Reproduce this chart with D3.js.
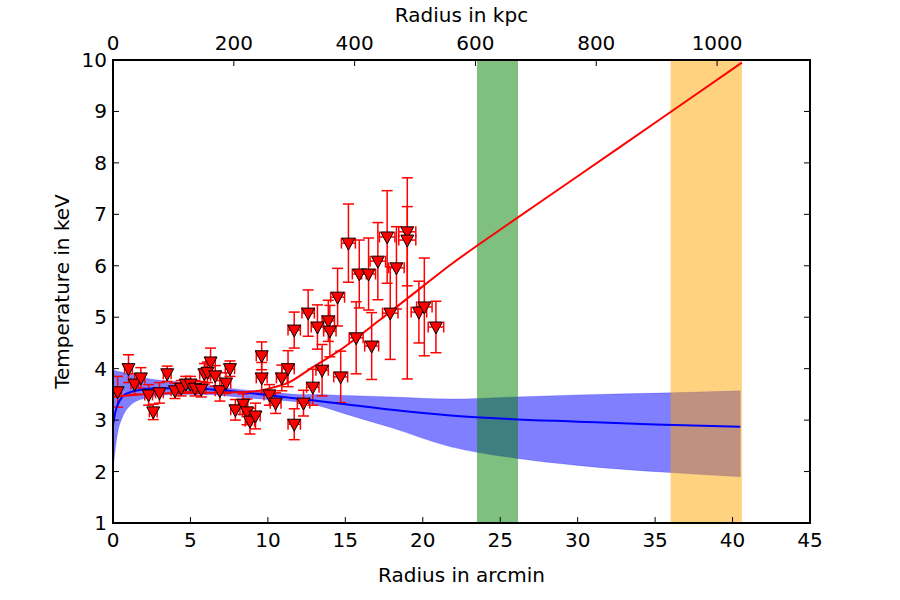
<!DOCTYPE html>
<html><head><meta charset="utf-8">
<script src="https://d3js.org/d3.v7.min.js"></script>
<style>body{margin:0;background:#fff}svg{display:block}text{font-family:"DejaVu Sans",sans-serif}</style>
</head><body><svg id="c" width="900" height="600"></svg>
<script>
// ---- data ----
const radius = [0.3,1.0,1.4,1.8,2.3,2.6,3.0,3.5,4.0,4.4,4.7,5.0,5.3,5.7,5.9,6.1,6.3,6.6,6.9,7.3,7.55,7.9,8.4,8.65,8.84,9.2,9.6,9.6,10.1,10.5,10.9,11.3,11.7,11.7,12.3,12.6,12.9,13.2,13.5,13.9,14.0,14.5,14.7,15.2,15.7,15.9,16.5,16.7,17.1,17.7,17.9,18.3,19.0,19.0,19.75,20.1,20.85];
const temp   = [3.55,4.0,3.7,3.82,3.49,3.16,3.53,3.9,3.57,3.62,3.70,3.70,3.62,3.60,3.9,3.93,4.13,3.86,3.57,3.72,4.0,3.2,3.31,3.16,2.98,3.08,4.25,3.82,3.49,3.33,3.82,4.0,2.92,4.75,3.33,5.08,3.64,4.81,3.97,4.93,4.73,5.39,3.84,6.44,4.6,5.84,5.84,4.44,6.09,6.56,5.08,5.96,6.66,6.5,5.1,5.2,4.81];
const tempErrLo = [0.3,0.27,0.2,0.2,0.2,0.15,0.2,0.15,0.15,0.15,0.15,0.15,0.15,0.15,0.2,0.2,0.27,0.2,0.2,0.2,0.15,0.2,0.2,0.25,0.25,0.25,0.27,0.3,0.2,0.2,0.25,0.35,0.3,0.35,0.25,0.45,0.35,0.43,0.5,0.4,0.5,0.56,0.5,0.76,0.7,0.66,0.7,0.65,0.75,0.9,0.9,0.8,1.05,2.7,0.6,0.95,0.5];
const tempErrHi = [0.3,0.27,0.2,0.2,0.2,0.15,0.2,0.15,0.15,0.15,0.15,0.15,0.15,0.15,0.2,0.2,0.27,0.2,0.2,0.2,0.15,0.2,0.2,0.25,0.25,0.25,0.27,0.3,0.2,0.2,0.25,0.35,0.3,0.35,0.25,0.45,0.35,0.43,0.5,0.4,0.5,0.56,0.5,0.76,0.7,0.66,0.7,0.65,0.75,0.9,0.9,0.8,1.05,0.65,0.6,0.95,0.5];
const radiusErr = [0.25,0.25,0.25,0.25,0.25,0.25,0.25,0.25,0.25,0.25,0.25,0.3,0.3,0.3,0.3,0.3,0.3,0.3,0.3,0.3,0.3,0.3,0.3,0.3,0.3,0.3,0.35,0.35,0.35,0.35,0.35,0.4,0.4,0.4,0.4,0.4,0.4,0.4,0.4,0.4,0.4,0.45,0.45,0.45,0.45,0.45,0.45,0.45,0.5,0.5,0.5,0.5,0.55,0.55,0.5,0.5,0.5];

// red fit line
const fitR = [0,3,6,8,9.2,10.5,11.4,12.9,14.65,17.2,20,21.75,23.5,30,35,40.6];
const fitT = [3.45,3.52,3.53,3.54,3.56,3.65,3.74,4.03,4.36,4.94,5.6,6.01,6.39,7.74,8.78,9.95];

// blue model line and band
const modelR = [0,0.15,0.3,0.6,1,2,3,5,7,9,11,13,15,18,21.8,25,30,35,40.5];
const modelT = [2.9,3.15,3.3,3.45,3.53,3.6,3.62,3.62,3.58,3.52,3.45,3.38,3.31,3.2,3.09,3.03,2.97,2.915,2.87];
const bandR  = [0,0.15,0.3,0.6,1,2,4,6,8,10,12,13,15,18,21.8,26,30,36,40.5];
const bandLo = [2.0,2.45,2.75,3.05,3.25,3.42,3.5,3.5,3.45,3.4,3.35,3.3,3.12,2.85,2.48,2.26,2.12,1.98,1.9];
const bandHi = [3.97,3.96,3.95,3.93,3.9,3.82,3.75,3.68,3.6,3.55,3.5,3.5,3.48,3.45,3.41,3.45,3.49,3.53,3.57];

// shaded radius bands (arcmin)
const greenBand = [23.5, 26.15];
const orangeBand = [36.0, 40.6];

const xTicks = [0,5,10,15,20,25,30,35,40,45];
const yTicks = [1,2,3,4,5,6,7,8,9,10];
const kpcTicks = [0,200,400,600,800,1000];
const kpcPerArcmin = 25.64;

// ---- layout ----
const L=113, R=810, T=60, B=523;
const FS = "20px";
const svg = d3.select("#c");
const x = d3.scaleLinear().domain([0,45]).range([L,R]);
const y = d3.scaleLinear().domain([1,10]).range([B,T]);
const xk = d3.scaleLinear().domain([0,45*kpcPerArcmin]).range([L,R]);

svg.append("clipPath").attr("id","clip").append("rect").attr("x",L).attr("y",T).attr("width",R-L).attr("height",B-T);
const g = svg.append("g").attr("clip-path","url(#clip)");

// blue band
const bandData = bandR.map((r,i)=>({r,lo:bandLo[i],hi:bandHi[i]}));
g.append("path").datum(bandData)
  .attr("d", d3.area().x(d=>x(d.r)).y0(d=>y(d.lo)).y1(d=>y(d.hi)).curve(d3.curveMonotoneX))
  .attr("fill","#0000ff").attr("fill-opacity",0.5).attr("stroke","#0000ff").attr("stroke-opacity",0.2);

// vertical shaded bands
g.append("rect").attr("x",x(greenBand[0])).attr("width",x(greenBand[1])-x(greenBand[0]))
  .attr("y",T).attr("height",B-T).attr("fill","#008000").attr("fill-opacity",0.5);
g.append("rect").attr("x",x(orangeBand[0])).attr("width",x(orangeBand[1])-x(orangeBand[0]))
  .attr("y",T).attr("height",B-T).attr("fill","#ffa500").attr("fill-opacity",0.5);

// error bars
const pts = radius.map((r,i)=>({r,t:temp[i],lo:tempErrLo[i],hi:tempErrHi[i],xe:radiusErr[i]}));
const eb = g.append("g").attr("stroke","#ff0000").attr("stroke-width",1.5).attr("fill","none");
const cw = 5.5;
pts.forEach(d=>{
  const cx=x(d.r), cy=y(d.t), yt=y(d.t+d.hi), yb=y(d.t-d.lo), xl=x(d.r-d.xe), xr=x(d.r+d.xe);
  eb.append("line").attr("x1",cx).attr("x2",cx).attr("y1",yt).attr("y2",yb);
  eb.append("line").attr("x1",cx-cw).attr("x2",cx+cw).attr("y1",yt).attr("y2",yt);
  eb.append("line").attr("x1",cx-cw).attr("x2",cx+cw).attr("y1",yb).attr("y2",yb);
  eb.append("line").attr("x1",xl).attr("x2",xr).attr("y1",cy).attr("y2",cy);
  eb.append("line").attr("x1",xl).attr("x2",xl).attr("y1",cy-cw).attr("y2",cy+cw);
  eb.append("line").attr("x1",xr).attr("x2",xr).attr("y1",cy-cw).attr("y2",cy+cw);
});

// blue model line
g.append("path").datum(modelR.map((r,i)=>[r,modelT[i]]))
  .attr("d", d3.line().x(d=>x(d[0])).y(d=>y(d[1])).curve(d3.curveMonotoneX))
  .attr("fill","none").attr("stroke","#0000ff").attr("stroke-width",2);

// red fit line
g.append("path").datum(fitR.map((r,i)=>[r,fitT[i]]))
  .attr("d", d3.line().x(d=>x(d[0])).y(d=>y(d[1])).curve(d3.curveCatmullRom))
  .attr("fill","none").attr("stroke","#ff0000").attr("stroke-width",2);

// markers
g.append("g").selectAll("path").data(pts).join("path")
  .attr("transform",d=>`translate(${x(d.r)},${y(d.t)})`)
  .attr("d","M-6.5,-5 L6.5,-5 L0,7 Z")
  .attr("fill","#ff0000").attr("stroke","#000").attr("stroke-width",1);

// ---- axes ----
const tl = 6;
const ax = svg.append("g");
ax.append("rect").attr("x",L).attr("y",T).attr("width",R-L).attr("height",B-T)
  .attr("fill","none").attr("stroke","#000").attr("stroke-width",2);
const tickStyle = s=>s.attr("stroke","#000").attr("stroke-width",1);
xTicks.forEach(v=>{
  tickStyle(ax.append("line").attr("x1",x(v)).attr("x2",x(v)).attr("y1",B).attr("y2",B-tl));
  ax.append("text").attr("x",x(v)).attr("y",B+24).attr("text-anchor","middle").attr("font-size",FS).text(v);
});
yTicks.forEach(v=>{
  tickStyle(ax.append("line").attr("x1",L).attr("x2",L+tl).attr("y1",y(v)).attr("y2",y(v)));
  tickStyle(ax.append("line").attr("x1",R).attr("x2",R-tl).attr("y1",y(v)).attr("y2",y(v)));
  ax.append("text").attr("x",L-6).attr("y",y(v)+7).attr("text-anchor","end").attr("font-size",FS).text(v);
});
kpcTicks.forEach(v=>{
  tickStyle(ax.append("line").attr("x1",xk(v)).attr("x2",xk(v)).attr("y1",T).attr("y2",T+tl));
  ax.append("text").attr("x",xk(v)).attr("y",T-10).attr("text-anchor","middle").attr("font-size",FS).text(v);
});
ax.append("text").attr("x",(L+R)/2).attr("y",582).attr("text-anchor","middle").attr("font-size",FS).text("Radius in arcmin");
ax.append("text").attr("x",(L+R)/2).attr("y",22).attr("text-anchor","middle").attr("font-size",FS).text("Radius in kpc");
ax.append("text").attr("transform",`translate(69,${(T+B)/2}) rotate(-90)`).attr("text-anchor","middle").attr("font-size",FS).text("Temperature in keV");
</script></body></html>
